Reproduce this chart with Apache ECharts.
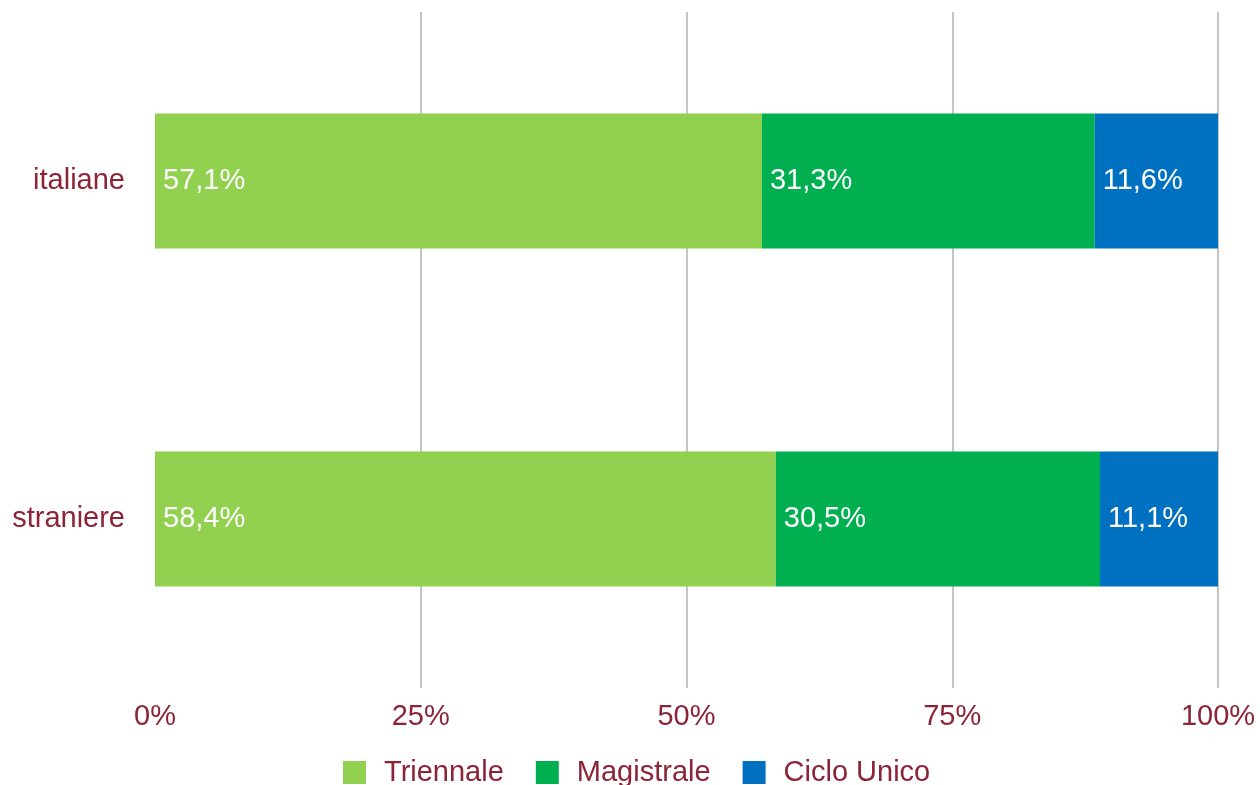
<!DOCTYPE html>
<html>
<head>
<meta charset="utf-8">
<script src="https://cdn.jsdelivr.net/npm/echarts@6/dist/echarts.min.js"></script>
<style>
    html, body { margin: 0; padding: 0; background: #fff; }
    #chart { width: 1260px; height: 785px; }
</style>
</head>
<body>
<div id="chart"></div>
<script>
// dati
const categorie = ['italiane', 'straniere'];
const serieNomi = ['Triennale', 'Magistrale', 'Ciclo Unico'];
const triennale = [57.1, 58.4];
const magistrale = [31.3, 30.5];
const cicloUnico = [11.6, 11.1];
const tickPercent = [0, 25, 50, 75, 100];

const coloreTesto = '#8B2436';
const colori = ['#92D050', '#00B050', '#0070C0'];

function initChart() {
    const chartDom = document.getElementById('chart');
    const myChart = echarts.init(chartDom);

    const valori = [triennale, magistrale, cicloUnico];

    const series = serieNomi.map(function (nome, i) {
        return {
            name: nome,
            type: 'bar',
            stack: 'tot',
            barWidth: '40%',
            itemStyle: { color: colori[i] },
            label: {
                show: true,
                position: 'insideLeft',
                distance: 8,
                color: '#fff',
                fontSize: 29,
                fontFamily: 'Liberation Sans',
                padding: [4, 0, 0, 0],
                formatter: function (p) {
                    return p.value.toFixed(1).replace('.', ',') + '%';
                }
            },
            data: valori[i]
        };
    });

    const option = {
        backgroundColor: '#fff',
        animation: false,
        textStyle: { fontFamily: 'Liberation Sans' },
        grid: {
            left: 155,
            right: 42,
            top: 12,
            bottom: 97,
            containLabel: false
        },
        legend: {
            top: 753,
            left: 338,
            icon: 'rect',
            itemWidth: 23,
            itemHeight: 23,
            itemGap: 32,
            textStyle: { color: coloreTesto, fontSize: 29, padding: [0, 0, 0, 13] },
            data: serieNomi
        },
        xAxis: {
            type: 'value',
            min: tickPercent[0],
            max: tickPercent[tickPercent.length - 1],
            interval: 25,
            axisLine: { show: false },
            axisTick: { show: false },
            axisLabel: {
                color: coloreTesto,
                fontSize: 29,
                margin: 14,
                formatter: '{value}%'
            },
            splitLine: {
                show: true,
                showMinLine: false,
                lineStyle: { color: '#C4C4C4', width: 2 }
            }
        },
        yAxis: {
            type: 'category',
            inverse: true,
            data: categorie,
            axisLine: { show: false },
            axisTick: { show: false },
            axisLabel: {
                color: coloreTesto,
                fontSize: 29,
                margin: 30,
                padding: [4, 0, 0, 0]
            }
        },
        series: series
    };

    myChart.setOption(option);
}

initChart();
</script>
</body>
</html>
